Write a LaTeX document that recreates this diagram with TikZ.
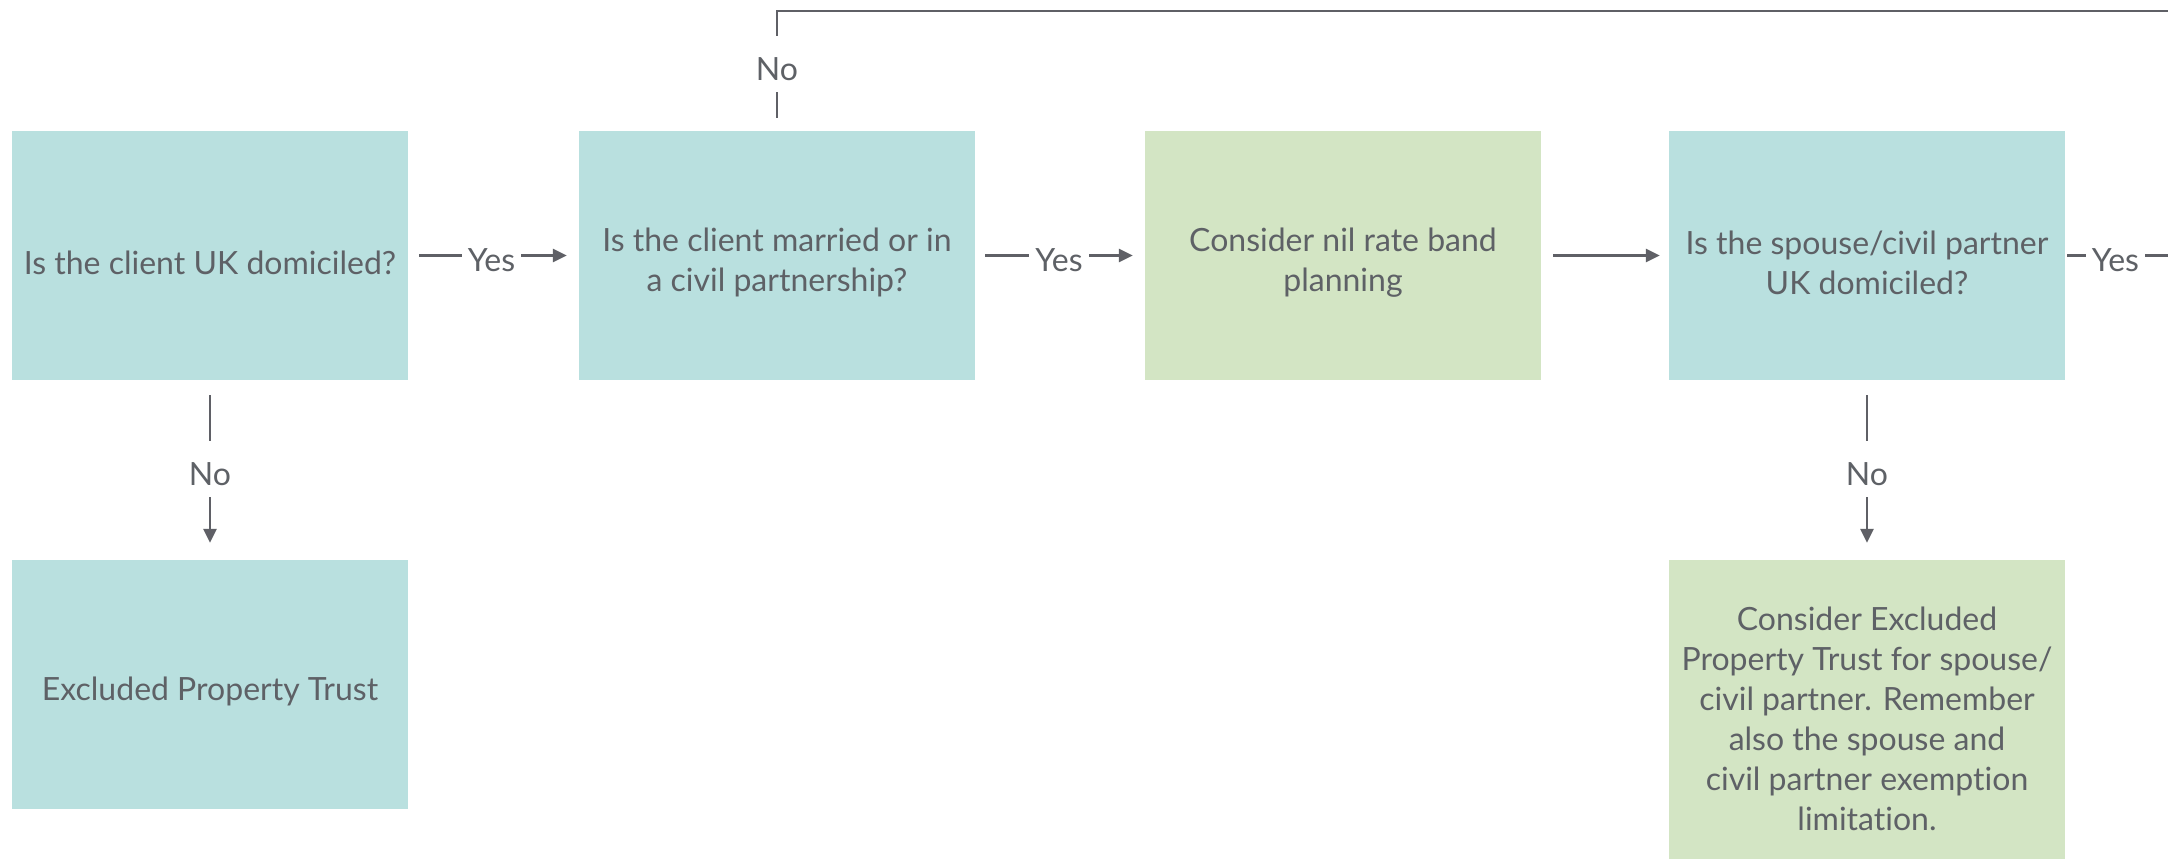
\documentclass[tikz,border=0pt]{standalone}
\usepackage{fontspec}
\setmainfont[Ligatures=NoCommon]{Lato}
\usetikzlibrary{arrows.meta}
\definecolor{teal}{HTML}{B9E0DF}
\definecolor{sage}{HTML}{D3E5C4}
\definecolor{txtgrey}{HTML}{5E6166}
\definecolor{linegrey}{HTML}{5F6066}
\begin{document}
\begin{tikzpicture}[x=1pt,y=1pt,
  box/.style={draw=none, minimum width=396pt, minimum height=249pt, inner sep=0pt},
  qbox/.style={box, fill=teal},
  abox/.style={box, fill=sage},
  boxtext/.style={align=center, text=txtgrey, inner sep=0pt, font=\fontsize{32}{40}\selectfont},
  conn/.style={draw=linegrey, line width=2.6pt},
  arr/.style={conn, -{Triangle[length=14pt,width=13pt]}},
  lbl/.style={fill=white, text=txtgrey, font=\fontsize{32}{40}\selectfont,
    inner xsep=6pt, inner ysep=2pt, text height=42pt, text depth=10pt}
]
\useasboundingbox (0,0) rectangle (2168,-860);
\fill[white] (0,0) rectangle (2168,-860);

\node[qbox] (b1) at (210,-255.5) {};
\node[qbox] (b2) at (777,-255.5) {};
\node[abox] (b3) at (1343,-255.5) {};
\node[qbox] (b4) at (1867,-255.5) {};
\node[qbox] (b5) at (210,-684.5) {};
\node[abox, minimum height=299pt] (b6) at (1867,-709.5) {};

\node[boxtext] (t1) at ([yshift=-7pt]b1.center) {Is the client UK domiciled?};
\node[boxtext] (t2) at ([yshift=-7pt]b2.center) {Is the client married or in\\a civil partnership?};
\node[boxtext] (t3) at ([yshift=-7pt]b3.center) {Consider nil rate band\\planning};
\node[boxtext] (t4) at ([yshift=-7pt]b4.center) {Is the spouse/civil partner\\UK domiciled?};
\node[boxtext] (t5) at ([yshift=-7pt]b5.center) {Excluded Property Trust};
\node[boxtext] (t6) at ([yshift=-9pt]b6.center) {Consider Excluded\\Property Trust for spouse/\\civil partner. Remember\\also the spouse and\\civil partner exemption\\limitation.};

\coordinate (topright) at (2172,-11);
\coordinate (rightend) at (2172,-255.5);

\draw[arr] ([xshift=11pt]b1.east) -- ([xshift=-12pt]b2.west) node[lbl, pos=0.49] {Yes};
\draw[arr] ([xshift=10pt]b2.east) -- ([xshift=-12pt]b3.west) node[lbl, pos=0.5] {Yes};
\draw[arr] ([xshift=12pt]b3.east) -- ([xshift=-9pt]b4.west);
\draw[conn] ([xshift=2pt]b4.east) -- (rightend) node[lbl, pos=0.46] {Yes};
\draw[conn] ([yshift=13pt]b2.north) |- (topright) node[lbl, pos=0.25] {No};
\draw[arr] ([yshift=-15pt]b1.south) -- ([yshift=17pt]b5.north) node[lbl, pos=0.5] {No};
\draw[arr] ([yshift=-15pt]b4.south) -- ([yshift=17pt]b6.north) node[lbl, pos=0.5] {No};
\end{tikzpicture}
\end{document}
